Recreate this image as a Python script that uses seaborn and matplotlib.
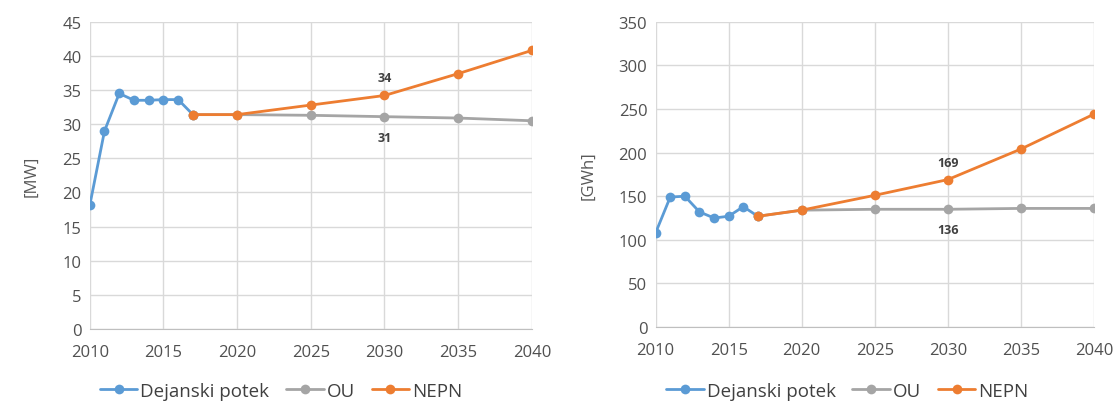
import matplotlib
matplotlib.use('Agg')
import matplotlib.pyplot as plt
import seaborn as sns

# Data
years_hist = [2010, 2011, 2012, 2013, 2014, 2015, 2016, 2017]
years_proj = [2017, 2020, 2025, 2030, 2035, 2040]

mw_hist = [18.1, 29.0, 34.5, 33.5, 33.5, 33.6, 33.6, 31.4]
mw_ou = [31.4, 31.4, 31.3, 31.1, 30.9, 30.5]
mw_nepn = [31.4, 31.4, 32.8, 34.2, 37.4, 40.8]

gwh_hist = [108, 149, 150, 132, 125, 127, 138, 127]
gwh_ou = [127, 134, 135, 135, 136, 136]
gwh_nepn = [127, 134, 151, 169, 204, 244]

series_names = ['Dejanski potek', 'OU', 'NEPN']
colors = ['#5B9BD5', '#A5A5A5', '#ED7D31']
xticks = [2010, 2015, 2020, 2025, 2030, 2035, 2040]

sns.set_style('white')
plt.rcParams['font.family'] = ['Open Sans', 'DejaVu Sans']

fig = plt.figure(figsize=(11.15, 4.06), dpi=100)
ax1 = fig.add_axes([0.0805, 0.187, 0.3965, 0.757])
ax2 = fig.add_axes([0.588, 0.192, 0.393, 0.752])


def draw(ax, hist, ou, nepn, ymax, ystep, unit, lab_hi, lab_lo):
    sns.lineplot(x=years_hist, y=hist, ax=ax, color=colors[0], marker='o',
                 markersize=7, markeredgewidth=0, linewidth=2, zorder=3)
    sns.lineplot(x=years_proj, y=ou, ax=ax, color=colors[1], marker='o',
                 markersize=7, markeredgewidth=0, linewidth=2, zorder=3)
    sns.lineplot(x=years_proj, y=nepn, ax=ax, color=colors[2], marker='o',
                 markersize=7, markeredgewidth=0, linewidth=2, zorder=4)
    ax.set_xlim(2010, 2040)
    ax.set_ylim(0, ymax)
    ax.set_xticks(xticks)
    ax.set_yticks(range(0, ymax + 1, ystep))
    ax.grid(True, color='#D9D9D9', linewidth=1)
    ax.set_axisbelow(True)
    for s in ['top', 'right', 'left']:
        ax.spines[s].set_visible(False)
    ax.spines['bottom'].set_color('#BFBFBF')
    ax.tick_params(axis='both', length=0, labelsize=12, colors='#505050', pad=6)
    ax.tick_params(axis='x', pad=11)
    ax.set_ylabel(unit, fontsize=12, color='#595959', labelpad=16)
    idx = years_proj.index(2030)
    ax.annotate(lab_hi, (2030, nepn[idx]), textcoords='offset points', xytext=(0, 8),
                ha='center', va='bottom', fontsize=9, fontweight='bold', color='#404040')
    ax.annotate(lab_lo, (2030, ou[idx]), textcoords='offset points', xytext=(0, -10),
                ha='center', va='top', fontsize=9, fontweight='bold', color='#404040')


draw(ax1, mw_hist, mw_ou, mw_nepn, 45, 5, '[MW]', '34', '31')
draw(ax2, gwh_hist, gwh_ou, gwh_nepn, 350, 50, '[GWh]', '169', '136')

for ax, cx in [(ax1, 0.252), (ax2, 0.76)]:
    handles = [plt.Line2D([], [], color=c, marker='o', markersize=7,
                          markeredgewidth=0, linewidth=2) for c in colors]
    fig.legend(handles, series_names, loc='upper center', bbox_to_anchor=(cx, 0.066),
               ncol=3, frameon=False, fontsize=13.5, handlelength=2.0,
               handletextpad=0.15, columnspacing=0.9, labelcolor='#404040',
               borderaxespad=0, borderpad=0.2)

fig.savefig('out.png', dpi=100)
